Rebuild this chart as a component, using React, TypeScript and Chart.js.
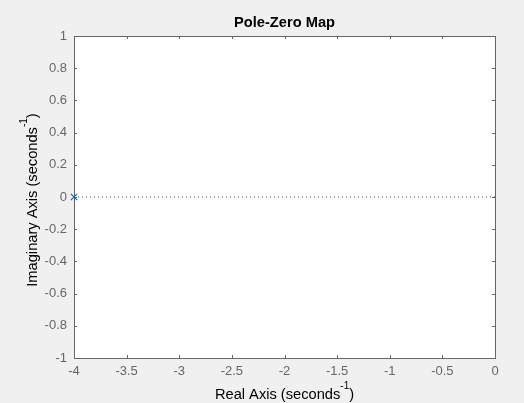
import React, { useEffect, useRef } from "react";
import { Chart, registerables } from "chart.js";

Chart.register(...registerables);

const xTicks = [-4, -3.5, -3, -2.5, -2, -1.5, -1, -0.5, 0];
const xTickLabels = ["-4", "-3.5", "-3", "-2.5", "-2", "-1.5", "-1", "-0.5", "0"];
const yTicks = [-1, -0.8, -0.6, -0.4, -0.2, 0, 0.2, 0.4, 0.6, 0.8, 1];
const yTickLabels = ["-1", "-0.8", "-0.6", "-0.4", "-0.2", "0", "0.2", "0.4", "0.6", "0.8", "1"];

const poleReal = [-4];
const poleImag = [0];
const realAxisX = [-4, 0];
const realAxisY = [0, 0];

const titleText = "Pole-Zero Map";
const xLabelParts = ["Real Axis (seconds", "-1", ")"];
const yLabelParts = ["Imaginary Axis (seconds", "-1", ")"];

const FONT = '"Liberation Sans", Arial, Helvetica, sans-serif';
const AXIS_COLOR = "#666666";

function drawSupLabel(ctx: CanvasRenderingContext2D, parts: string[], cx: number, baseline: number) {
  const mainFont = `14.67px ${FONT}`;
  const supFont = `10px ${FONT}`;
  ctx.font = mainFont;
  const w0 = ctx.measureText(parts[0]).width;
  const w2 = ctx.measureText(parts[2]).width;
  ctx.font = supFont;
  const w1 = ctx.measureText(parts[1]).width;
  const total = w0 + w1 + w2;
  let x = cx - total / 2;
  ctx.textAlign = "left";
  ctx.textBaseline = "alphabetic";
  ctx.fillStyle = "#000000";
  ctx.font = mainFont;
  ctx.fillText(parts[0], x, baseline);
  x += w0;
  ctx.font = supFont;
  ctx.fillText(parts[1], x, baseline - 10);
  x += w1;
  ctx.font = mainFont;
  ctx.fillText(parts[2], x, baseline);
}

const framePlugin = {
  id: "matlabFrame",
  beforeDraw(chart: any) {
    const { ctx, chartArea } = chart;
    ctx.save();
    ctx.fillStyle = "#ffffff";
    ctx.fillRect(chartArea.left, chartArea.top, chartArea.right - chartArea.left, chartArea.bottom - chartArea.top);
    ctx.restore();
  },
  beforeDatasetsDraw(chart: any) {
    const { ctx, chartArea, scales } = chart;
    const { left, right, top, bottom } = chartArea;
    ctx.save();
    ctx.strokeStyle = AXIS_COLOR;
    ctx.lineWidth = 1;
    ctx.strokeRect(left + 0.5, top + 0.5, right - left, bottom - top);
    const tl = 3;
    ctx.beginPath();
    for (const v of xTicks) {
      const px = Math.round(scales.x.getPixelForValue(v)) + 0.5;
      ctx.moveTo(px, bottom);
      ctx.lineTo(px, bottom - tl);
      ctx.moveTo(px, top);
      ctx.lineTo(px, top + tl);
    }
    for (const v of yTicks) {
      const py = Math.round(scales.y.getPixelForValue(v)) + 0.5;
      ctx.moveTo(left, py);
      ctx.lineTo(left + tl, py);
      ctx.moveTo(right, py);
      ctx.lineTo(right - tl, py);
    }
    ctx.stroke();
    ctx.restore();
  },
  afterDraw(chart: any) {
    const { ctx, chartArea } = chart;
    const cx = (chartArea.left + chartArea.right) / 2;
    ctx.save();
    ctx.fillStyle = "#000000";
    ctx.font = `bold 14.67px ${FONT}`;
    ctx.textAlign = "center";
    ctx.textBaseline = "alphabetic";
    ctx.fillText(titleText, cx, 26.5);
    drawSupLabel(ctx, xLabelParts, cx, 399);
    ctx.translate(37, 200);
    ctx.rotate(-Math.PI / 2);
    drawSupLabel(ctx, yLabelParts, 0, 0);
    ctx.restore();
  },
};

export default function App() {
  const ref = useRef<HTMLCanvasElement | null>(null);
  useEffect(() => {
    document.body.style.margin = "0";
    const canvas = ref.current;
    if (!canvas) return;
    const chart = new Chart(canvas, {
      type: "scatter",
      data: {
        datasets: [
          {
            type: "line",
            data: realAxisX.map((x, i) => ({ x, y: realAxisY[i] })),
            borderColor: "#444444",
            borderWidth: 1,
            borderDash: [1, 3],
            pointRadius: 0,
            fill: false,
          } as any,
          {
            type: "scatter",
            data: poleReal.map((x, i) => ({ x, y: poleImag[i] })),
            pointStyle: "crossRot",
            pointRadius: 4.5,
            borderColor: "#0072BD",
            borderWidth: 1.2,
            clip: false,
          } as any,
        ],
      },
      options: {
        animation: false,
        responsive: false,
        devicePixelRatio: 1,
        layout: { padding: { top: 36, right: 29, left: 0, bottom: 0 } },
        plugins: {
          legend: { display: false },
          tooltip: { enabled: false },
          title: { display: false },
        },
        scales: {
          x: {
            type: "linear",
            min: -4,
            max: 0,
            afterBuildTicks: (s: any) => {
              s.ticks = xTicks.map((v) => ({ value: v }));
            },
            afterFit: (s: any) => {
              s.height = 45;
            },
            grid: { display: false, drawTicks: false },
            border: { display: false },
            ticks: {
              padding: 6,
              color: AXIS_COLOR,
              font: { family: FONT, size: 13 },
              maxRotation: 0,
              autoSkip: false,
              callback: (v: any) => xTickLabels[xTicks.indexOf(Number(v))] ?? "",
            },
          },
          y: {
            type: "linear",
            min: -1,
            max: 1,
            afterBuildTicks: (s: any) => {
              s.ticks = yTicks.map((v) => ({ value: v }));
            },
            afterFit: (s: any) => {
              s.width = 74;
            },
            grid: { display: false, drawTicks: false },
            border: { display: false },
            ticks: {
              padding: 7,
              color: AXIS_COLOR,
              font: { family: FONT, size: 13 },
              autoSkip: false,
              callback: (v: any) => yTickLabels[yTicks.indexOf(Number(v))] ?? "",
            },
          },
        },
      },
      plugins: [framePlugin],
    });
    return () => chart.destroy();
  }, []);
  return (
    <div style={{ position: "absolute", left: 0, top: 0, width: 524, height: 403, background: "#f0f0f0" }}>
      <canvas ref={ref} width={524} height={403} style={{ display: "block", width: 524, height: 403 }} />
    </div>
  );
}
